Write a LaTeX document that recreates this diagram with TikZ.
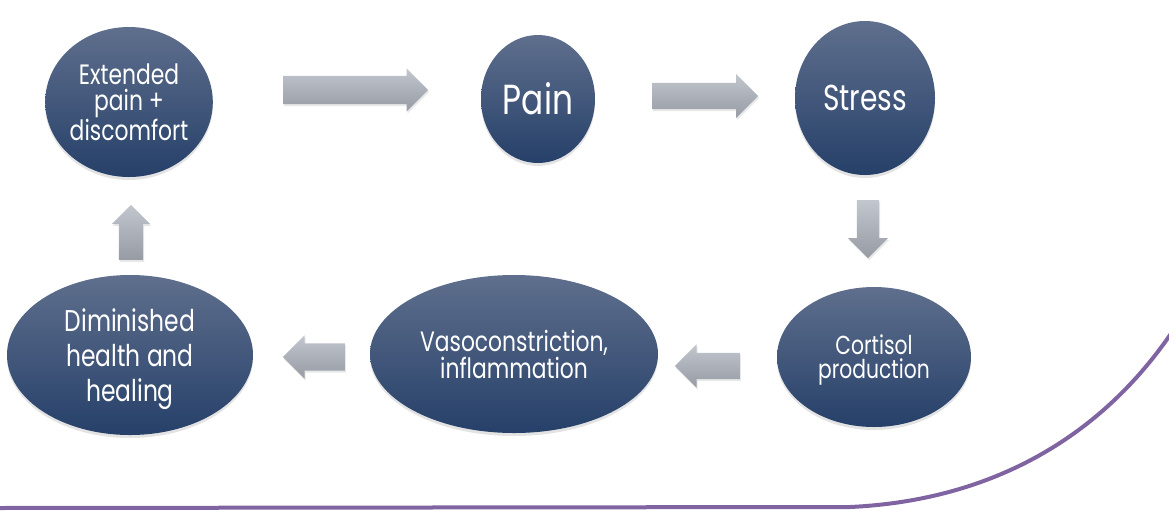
\documentclass[tikz,border=0pt]{standalone}
\usepackage{fontspec}
\setmainfont{Poppins}[FakeStretch=0.78]
\usetikzlibrary{shapes.geometric,shapes.arrows,shadows}
\definecolor{bubbletop}{RGB}{95,111,141}
\definecolor{bubblebot}{RGB}{38,64,105}
\definecolor{arrowtop}{RGB}{194,199,206}
\definecolor{arrowbot}{RGB}{150,155,164}
\definecolor{curvepurple}{RGB}{128,100,162}

\begin{document}
\begin{tikzpicture}[x=1pt,y=1pt]
              \tikzstyle{every node}+=[inner sep=0pt]
              \tikzstyle{bubble}=[ellipse, top color=bubbletop, bottom color=bubblebot, text=white, align=center, text depth=0pt, drop shadow={shadow xshift=0pt, shadow yshift=-3pt, opacity=0.22}]
              \tikzstyle{blockarrow}=[single arrow, anchor=tail, single arrow head indent=0pt, top color=arrowtop, bottom color=arrowbot, drop shadow={shadow xshift=1pt, shadow yshift=-2pt, opacity=0.18}]
              \useasboundingbox (0,0) rectangle (1169,-515);
              \node [bubble, minimum width=162, minimum height=150, font=\fontsize{28}{26}\selectfont] (ext) at (129,-102) {Extended\\pain +\\discomfort};
              \node [bubble, minimum width=114, minimum height=128, font=\fontsize{42}{40}\selectfont] (pain) at (538,-99) {Pain};
              \node [bubble, minimum width=140, minimum height=154, font=\fontsize{36}{36}\selectfont] (stress) at (865,-98) {Stress};
              \node [bubble, minimum width=194, minimum height=140, font=\fontsize{26}{24}\selectfont] (cort) at (874,-357) {Cortisol\\production};
              \node [bubble, minimum width=288, minimum height=158, font=\fontsize{28}{27}\selectfont] (vaso) at (514,-354) {Vasoconstriction,\\inflammation};
              \node [bubble, minimum width=246, minimum height=160, font=\fontsize{30}{35}\selectfont] (dim) at (130,-355) {Diminished\\health and\\healing};
              \node [blockarrow, minimum height=145, inner sep=14pt, single arrow head extend=7.5pt] (a1) at (283,-90) {};
              \node [blockarrow, minimum height=106, inner sep=13pt, single arrow head extend=9pt] (a2) at (652,-96) {};
              \node [blockarrow, minimum height=58, inner sep=11pt, single arrow head extend=9pt, shape border rotate=270] (a3) at (868,-200) {};
              \node [blockarrow, minimum height=65, inner sep=13pt, single arrow head extend=8.5pt, shape border rotate=180] (a4) at (740,-366) {};
              \node [blockarrow, minimum height=62, inner sep=13.5pt, single arrow head extend=8pt, shape border rotate=180] (a5) at (345,-357) {};
              \node [blockarrow, minimum height=55, inner sep=12pt, single arrow head extend=7pt, shape border rotate=90] (a6) at (131,-260) {};
              \draw [curvepurple, line width=4pt] (-5,-508) -- (850,-507) .. controls (1000,-500) and (1110,-430) .. (1180,-320);
            \end{tikzpicture}
\end{document}
